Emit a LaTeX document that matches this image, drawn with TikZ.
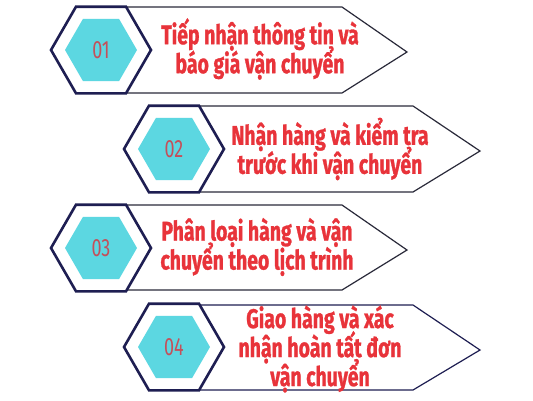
\documentclass[tikz,border=0pt]{standalone}
\usepackage{fontspec}
\usepackage{xcolor}
\usepackage{tikz}
\usetikzlibrary{shapes.geometric}
\newfontfamily\titlefont[FakeStretch=0.72,BoldFeatures={FakeBold=1}]{Fira Sans}
\newcommand\tightlines{\lineskiplimit=-50pt\relax\lineskip=0pt\relax}
\definecolor{navy}{HTML}{1E1E52}
\definecolor{aqua}{HTML}{5CD7E1}
\definecolor{titlered}{HTML}{E8333A}
\definecolor{numred}{HTML}{C4505A}
\definecolor{edgegray}{HTML}{2A2A3A}

\begin{document}
\begin{tikzpicture}[x=1pt,y=-1pt,
  hexout/.style={regular polygon, regular polygon sides=6, minimum size=100pt, inner sep=0pt, draw=navy, line width=2.6pt, fill=white},
  hexin/.style={regular polygon, regular polygon sides=6, minimum size=72pt, inner sep=0pt, fill=aqua},
  num/.style={text=numred, font=\titlefont\fontsize{25}{25}\selectfont},
  title/.style={text=titlered, align=center, font=\titlefont\bfseries\fontsize{27}{29}\selectfont\tightlines},
  pointer/.style={draw=edgegray, line width=1.2pt, fill=white, line join=miter}]
\useasboundingbox (0,0) rectangle (533,400);

% row 1
\draw[pointer] (126,7) -- (342,7) -- (407,52) -- (342,93) -- (126,93);
\node[hexout] (H1) at (101,50) {};
\node[hexin]  (C1) at (101,50) {};
\node[num]    (N1) at (101,50) {01};
\node[title]  (T1) at (260,49) {Tiếp nhận thông tin và\\báo giá vận chuyển};

% row 2
\draw[pointer] (199,106) -- (413,106) -- (480,151) -- (413,192) -- (199,192);
\node[hexout] (H2) at (174,149) {};
\node[hexin]  (C2) at (174,149) {};
\node[num]    (N2) at (174,149) {02};
\node[title]  (T2) at (330,149) {Nhận hàng và kiểm tra\\trước khi vận chuyển};

% row 3
\draw[pointer] (126,205) -- (342,205) -- (407,250) -- (342,290) -- (126,290);
\node[hexout] (H3) at (101,248) {};
\node[hexin]  (C3) at (101,248) {};
\node[num]    (N3) at (101,248) {03};
\node[title]  (T3) at (257,247) {Phân loại hàng và vận\\chuyển theo lịch trình};

% row 4
\draw[pointer, draw=navy] (199,305) -- (413,305) -- (480,350) -- (413,390) -- (199,390);
\node[hexout] (H4) at (174,347) {};
\node[hexin]  (C4) at (174,347) {};
\node[num]    (N4) at (174,347) {04};
\node[title]  (T4) at (320,349) {Giao hàng và xác\\nhận hoàn tất đơn\\vận chuyển};
\end{tikzpicture}
\end{document}
